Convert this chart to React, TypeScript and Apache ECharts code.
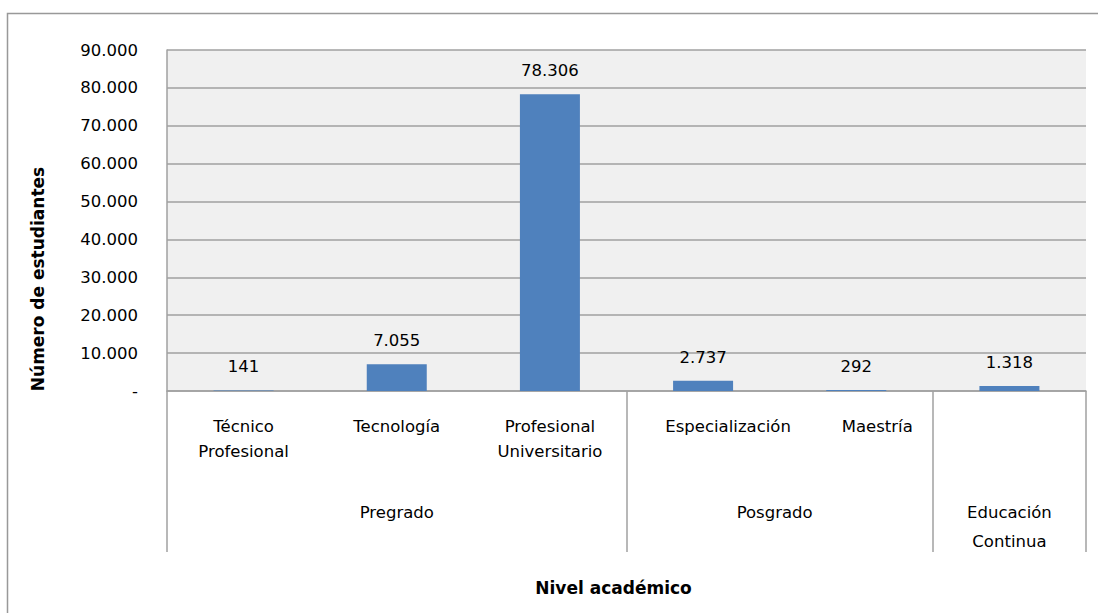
import React, { useEffect, useRef } from "react";
import * as echarts from "echarts";

const categories = [
  "Técnico\nProfesional",
  "Tecnología",
  "Profesional\nUniversitario",
  "Especialización",
  "Maestría",
  "",
];
const values = [141, 7055, 78306, 2737, 292, 1318];
const groups = ["Pregrado", "Posgrado", "Educación\nContinua"];
const groupSpans = [[0, 2], [3, 4], [5, 5]];
const yTicks = { min: 0, max: 90000, interval: 10000 };
const yTitle = "Número de estudiantes";
const xTitle = "Nivel académico";

const FONT = "DejaVu Sans";
const FS = 16.5;

function fmt(v: number): string {
  if (v === 0) return "-";
  return String(Math.round(v)).replace(/\B(?=(\d{3})+(?!\d))/g, ".");
}

export default function App() {
  const ref = useRef<HTMLDivElement>(null);
  useEffect(() => {
    if (!ref.current) return;
    const chart = echarts.init(ref.current, null, { renderer: "svg" });
    const boundaries = new Set<number>();
    groupSpans.forEach((s) => boundaries.add(s[0]));
    const richBase = { fontFamily: FONT, fontSize: FS, color: "#000", lineHeight: 25 };
    chart.setOption({
      animation: false,
      backgroundColor: "#ffffff",
      textStyle: { fontFamily: FONT },
      grid: {
        left: 167,
        right: 12,
        top: 50,
        bottom: 222,
        show: true,
        backgroundColor: "#F0F0F0",
        borderWidth: 0,
      },
      xAxis: {
        type: "category",
        data: categories,
        axisLine: { show: true, lineStyle: { color: "#A0A0A0", width: 1.5 } },
        axisTick: {
          show: true,
          length: 161,
          interval: (idx: number) => boundaries.has(idx),
          lineStyle: { color: "#A0A0A0", width: 1.5 },
        },
        axisLabel: {
          interval: 0,
          margin: 23,
          color: "#000",
          fontFamily: FONT,
          fontSize: FS,
          lineHeight: 25,
          formatter: (v: string, idx: number) =>
            idx === 3 ? `{a|${v}}` : idx === 4 ? `{b|${v}}` : v,
          rich: {
            a: { ...richBase, padding: [0, 0, 0, 50] },
            b: { ...richBase, padding: [0, 0, 0, 42] },
          },
        },
      },
      yAxis: {
        type: "value",
        min: yTicks.min,
        max: yTicks.max,
        interval: yTicks.interval,
        axisLine: { show: true, lineStyle: { color: "#A0A0A0", width: 1.5 } },
        axisTick: { show: false },
        splitLine: { show: true, lineStyle: { color: "#A0A0A0", width: 1.5 } },
        axisLabel: {
          color: "#000",
          fontFamily: FONT,
          fontSize: FS,
          margin: 29,
          formatter: (v: number) => fmt(v),
        },
      },
      series: [
        {
          type: "bar",
          data: values,
          barWidth: 60,
          itemStyle: { color: "#4F81BD" },
          label: {
            show: true,
            position: "top",
            distance: 15,
            color: "#000",
            fontFamily: FONT,
            fontSize: FS,
            formatter: (p: any) => fmt(p.value),
          },
        },
      ],
    });

    const px = (i: number) => chart.convertToPixel({ xAxisIndex: 0 }, i) as number;
    const y0 = chart.convertToPixel({ yAxisIndex: 0 }, 0) as number;
    const graphics: any[] = [
      {
        type: "rect",
        shape: { x: 7.5, y: 13.5, width: 1200, height: 700 },
        style: { fill: "none", stroke: "#999999", lineWidth: 1.5 },
        silent: true,
        z: -10,
      },
      {
        type: "text",
        x: 38,
        y: 279,
        rotation: Math.PI / 2,
        style: {
          text: yTitle,
          font: `bold 17px "${FONT}"`,
          fill: "#000",
          textAlign: "center",
          textVerticalAlign: "middle",
        },
      },
      {
        type: "text",
        x: (px(0) + px(5)) / 2 - 13,
        y: y0 + 197,
        style: {
          text: xTitle,
          font: `bold 17px "${FONT}"`,
          fill: "#000",
          textAlign: "center",
          textVerticalAlign: "middle",
        },
      },
    ];
    groups.forEach((g, gi) => {
      const [a, b] = groupSpans[gi];
      const cx = (px(a) + px(b)) / 2 - (gi === 1 ? 5 : 0);
      graphics.push({
        type: "text",
        x: cx,
        y: y0 + 106.5,
        style: {
          text: g,
          font: `${FS}px "${FONT}"`,
          lineHeight: 29,
          fill: "#000",
          textAlign: "center",
          textVerticalAlign: "top",
        },
      });
    });
    chart.setOption({ graphic: graphics });
    return () => chart.dispose();
  }, []);
  return (
    <div
      ref={ref}
      style={{ position: "fixed", left: 0, top: 0, width: 1098, height: 613 }}
    />
  );
}
